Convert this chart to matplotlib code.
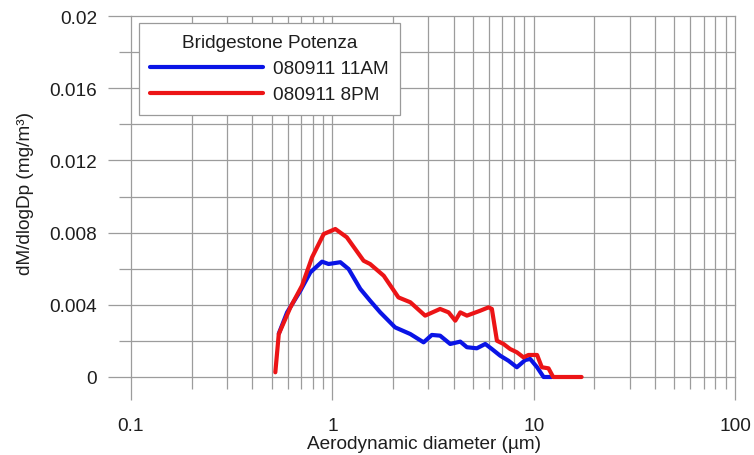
import matplotlib
matplotlib.use('Agg')
import matplotlib.pyplot as plt
from matplotlib.ticker import MultipleLocator, LogLocator, NullFormatter, FuncFormatter

plt.rcParams['font.family'] = ['Liberation Sans', 'DejaVu Sans']

# values
d_11am = [0.542, 0.596, 0.694, 0.778, 0.889, 0.958, 1.096, 1.205, 1.377, 1.54, 1.73,
          2.05, 2.44, 2.84, 3.12, 3.43, 3.85, 4.32, 4.66, 5.22, 5.75, 6.2, 6.82,
          7.5, 8.25, 9.08, 9.61, 10.4, 11.2, 12.3]
m_11am = [0.0024, 0.00358, 0.00478, 0.0058, 0.00639, 0.00626, 0.00636, 0.00598, 0.00488,
          0.00423, 0.00358, 0.00275, 0.00238, 0.00192, 0.00233, 0.00229, 0.00183, 0.00196,
          0.00165, 0.00159, 0.00183, 0.00155, 0.00118, 0.0009, 0.00054, 0.00094, 0.001,
          0.00054, 0.0, 0.0]

d_8pm = [0.521, 0.542, 0.619, 0.707, 0.793, 0.906, 1.035, 1.18, 1.43, 1.54, 1.80, 2.13,
         2.44, 2.89, 3.43, 3.78, 4.08, 4.32, 4.66, 5.42, 5.97, 6.2, 6.57, 7.08, 7.64,
         8.25, 8.9, 9.42, 10.4, 10.98, 11.85, 12.5, 17.3]
m_8pm = [0.00026, 0.00238, 0.00386, 0.00506, 0.00663, 0.00792, 0.0082, 0.00774, 0.00644,
         0.00626, 0.00561, 0.00441, 0.00414, 0.0034, 0.00377, 0.00358, 0.00312, 0.00358,
         0.0034, 0.00367, 0.00386, 0.00377, 0.00201, 0.00183, 0.00155, 0.00137, 0.00109,
         0.00122, 0.00122, 0.00054, 0.00048, 0.0, 0.0]

legend_title = 'Bridgestone Potenza'
series_labels = ['080911 11AM', '080911 8PM']
grid_c = '#9c9c9c'
txt_c = '#1e1e1e'

fig = plt.figure(figsize=(7.54, 4.56), dpi=100)
ax = fig.add_axes([131 / 754, 1 - 378 / 456, 604 / 754, 361 / 456])

ax.plot(d_11am, m_11am, color='#0a14e6', lw=3, solid_capstyle='round',
        solid_joinstyle='round', label=series_labels[0], zorder=3, clip_on=False)
ax.plot(d_8pm, m_8pm, color='#ec1416', lw=3, solid_capstyle='round',
        solid_joinstyle='round', label=series_labels[1], zorder=4, clip_on=False)

ax.set_xscale('log')
ax.set_xlim(0.1, 100)
ax.set_ylim(0, 0.02)
ax.xaxis.set_major_locator(LogLocator(base=10))
ax.xaxis.set_minor_locator(LogLocator(base=10, subs=range(2, 10)))
ax.xaxis.set_major_formatter(FuncFormatter(lambda v, p: '%g' % v))
ax.xaxis.set_minor_formatter(NullFormatter())
ax.yaxis.set_major_locator(MultipleLocator(0.004))
ax.yaxis.set_minor_locator(MultipleLocator(0.002))
ax.yaxis.set_major_formatter(FuncFormatter(lambda v, p: '%g' % round(v, 4)))

for s in ax.spines.values():
    s.set_visible(False)
ax.grid(True, which='both', color=grid_c, lw=0.9)
ax.set_axisbelow(True)
ax.tick_params(which='major', direction='out', length=16.5, width=0.9, color=grid_c,
               labelsize=13.7, labelcolor=txt_c)
ax.tick_params(which='minor', direction='out', length=8.3, width=0.9, color=grid_c)
ax.tick_params(axis='y', which='major', pad=8)
ax.tick_params(axis='x', which='major', pad=12)

ax.set_xlabel('Aerodynamic diameter (µm)', fontsize=13.7, color=txt_c)
ax.set_ylabel('dM/dlogDp (mg/m³)', fontsize=13.7, color=txt_c)
ax.xaxis.set_label_coords(0.485, -0.162)
ax.yaxis.set_label_coords(-0.16, 0.512)

leg = ax.legend(title=legend_title, loc='upper left',
                bbox_to_anchor=(139 / 754, 1 - 24 / 456), bbox_transform=fig.transFigure,
                fontsize=13.7, title_fontsize=13.7, frameon=True, fancybox=False,
                shadow=False, framealpha=1, edgecolor='#9a9a9a', handlelength=5.9,
                handletextpad=0.55, labelspacing=0.45, borderpad=0.6, borderaxespad=0)
leg.get_frame().set_linewidth(0.9)
leg.get_title().set_color(txt_c)
for t in leg.get_texts():
    t.set_color(txt_c)

fig.canvas.draw()
for gl in ax.get_xgridlines() + ax.get_ygridlines():
    gl.set_clip_on(False)

fig.savefig('out.png', dpi=100)
